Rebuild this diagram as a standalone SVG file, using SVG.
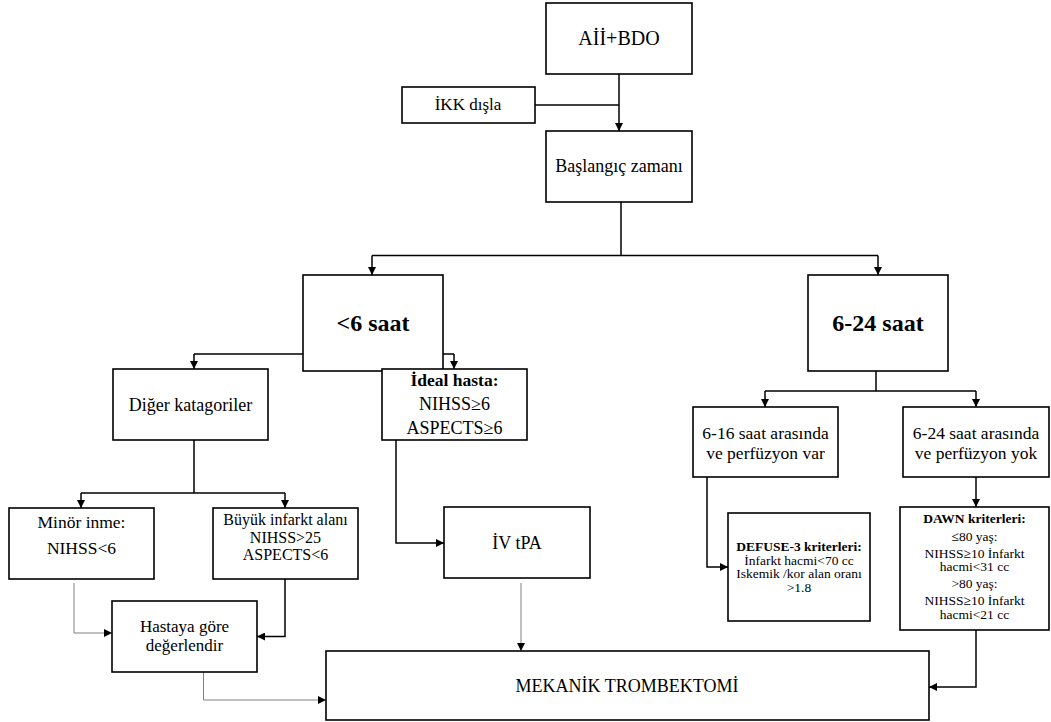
<svg xmlns="http://www.w3.org/2000/svg" width="1051" height="722" viewBox="0 0 1051 722">
<style>
.box{fill:#fff;stroke:#000;stroke-width:1.6}
.t{font-family:"Liberation Serif","Times New Roman",serif;fill:#000;text-anchor:middle}
.b{font-weight:bold}
.c{fill:none;stroke:#000;stroke-width:1.5}
.g{fill:none;stroke:#808080;stroke-width:1}
</style>
<defs>
<marker id="ah" viewBox="0 0 8 8" refX="8" refY="4" markerWidth="8" markerHeight="8" markerUnits="userSpaceOnUse" orient="auto">
<path d="M0,0 L8,4 L0,8 z" fill="#000"/>
</marker>
</defs>
<rect width="1051" height="722" fill="#fff"/>
<g id="connectors">
<path class="c" d="M619,74 V131" marker-end="url(#ah)"/>
<path class="c" d="M535,105 H619"/>
<path class="c" d="M621,202 V255.5 M372,255.5 H878"/>
<path class="c" d="M372,255.5 V275" marker-end="url(#ah)"/>
<path class="c" d="M878,255.5 V275" marker-end="url(#ah)"/>
<path class="c" d="M372,371 V354 M194,354 H454"/>
<path class="c" d="M194,354 V369" marker-end="url(#ah)"/>
<path class="c" d="M454,354 V369" marker-end="url(#ah)"/>
<path class="c" d="M194,440 V493 M81,493 H285"/>
<path class="c" d="M81,493 V508" marker-end="url(#ah)"/>
<path class="c" d="M285,493 V508" marker-end="url(#ah)"/>
<path class="c" d="M396,440 V543 H444" marker-end="url(#ah)"/>
<path class="g" d="M74,583 V633 H112" marker-end="url(#ah)"/>
<path class="c" d="M285,579 V636.5 H257" marker-end="url(#ah)"/>
<path class="g" d="M203.5,672 V700 H326" marker-end="url(#ah)"/>
<path class="g" d="M521,583 V651" marker-end="url(#ah)"/>
<path class="c" d="M876,371 V391 M765,391 H976"/>
<path class="c" d="M765,391 V407" marker-end="url(#ah)"/>
<path class="c" d="M976,391 V407" marker-end="url(#ah)"/>
<path class="c" d="M707,477 V567 H728" marker-end="url(#ah)"/>
<path class="c" d="M976,477 V507" marker-end="url(#ah)"/>
<path class="c" d="M976,630 V687 H929" marker-end="url(#ah)"/>
</g>
<g id="aii">
<rect class="box" x="546" y="3" width="146" height="71"/>
<text class="t" x="619" y="45" font-size="20">Aİİ+BDO</text>
</g>
<g id="ikk">
<rect class="box" x="402" y="87" width="133" height="36"/>
<text class="t" x="468" y="110" font-size="17">İKK dışla</text>
</g>
<g id="baslangic">
<rect class="box" x="546" y="131" width="146" height="71"/>
<text class="t" x="619" y="172" font-size="18">Başlangıç zamanı</text>
</g>
<g id="lt6">
<rect class="box" x="303" y="275" width="140" height="96"/>
<text class="t b" x="373" y="331" font-size="24">&lt;6 saat</text>
</g>
<g id="h624">
<rect class="box" x="808" y="275" width="140" height="96"/>
<text class="t b" x="878" y="331" font-size="24">6-24 saat</text>
</g>
<g id="diger">
<rect class="box" x="113" y="369" width="155" height="71"/>
<text class="t" x="190.5" y="411" font-size="18">Diğer katagoriler</text>
</g>
<g id="ideal">
<rect class="box" x="382" y="369" width="145" height="71"/>
<text class="t b" x="454.5" y="386" font-size="17.5">İdeal hasta:</text>
<text class="t" x="454.5" y="410" font-size="18">NIHSS≥6</text>
<text class="t" x="454.5" y="433.5" font-size="18">ASPECTS≥6</text>
</g>
<g id="minor">
<rect class="box" x="9" y="508" width="145" height="71"/>
<text class="t" x="81.5" y="528" font-size="17.5">Minör inme:</text>
<text class="t" x="81.5" y="554" font-size="17.5">NIHSS&lt;6</text>
</g>
<g id="buyuk">
<rect class="box" x="213" y="508" width="145" height="71"/>
<text class="t" x="285.5" y="525" font-size="16">Büyük infarkt alanı</text>
<text class="t" x="285.5" y="542.5" font-size="16">NIHSS&gt;25</text>
<text class="t" x="285.5" y="560" font-size="16">ASPECTS&lt;6</text>
</g>
<g id="ivtpa">
<rect class="box" x="444" y="507" width="146" height="71"/>
<text class="t" x="517" y="549" font-size="18">İV tPA</text>
</g>
<g id="h616">
<rect class="box" x="693" y="407" width="145" height="70"/>
<text class="t" x="765.5" y="439" font-size="17.5">6-16 saat arasında</text>
<text class="t" x="765.5" y="459" font-size="17.5">ve perfüzyon var</text>
</g>
<g id="h624yok">
<rect class="box" x="903" y="407" width="146" height="70"/>
<text class="t" x="976" y="439" font-size="17.5">6-24 saat arasında</text>
<text class="t" x="976" y="459" font-size="17.5">ve perfüzyon yok</text>
</g>
<g id="defuse">
<rect class="box" x="728" y="513" width="142" height="108"/>
<text class="t b" x="799" y="551" font-size="13.5">DEFUSE-3 kriterleri:</text>
<text class="t" x="799" y="564.5" font-size="13.5">İnfarkt hacmi&lt;70 cc</text>
<text class="t" x="799" y="578" font-size="13.5">Iskemik /kor alan oranı</text>
<text class="t" x="799" y="591.5" font-size="13.5">&gt;1.8</text>
</g>
<g id="dawn">
<rect class="box" x="900" y="507" width="149" height="123"/>
<text class="t b" x="974.5" y="523" font-size="13.5">DAWN kriterleri:</text>
<text class="t" x="974.5" y="541" font-size="13.5">≤80 yaş:</text>
<text class="t" x="974.5" y="558" font-size="13.5">NIHSS≥10 İnfarkt</text>
<text class="t" x="974.5" y="571" font-size="13.5">hacmi&lt;31 cc</text>
<text class="t" x="974.5" y="588" font-size="13.5">&gt;80 yaş:</text>
<text class="t" x="974.5" y="605" font-size="13.5">NIHSS≥10 İnfarkt</text>
<text class="t" x="974.5" y="618.5" font-size="13.5">hacmi&lt;21 cc</text>
</g>
<g id="hastaya">
<rect class="box" x="112" y="601" width="145" height="71"/>
<text class="t" x="184.5" y="632" font-size="17">Hastaya göre</text>
<text class="t" x="184.5" y="651" font-size="17">değerlendir</text>
</g>
<g id="mekanik">
<rect class="box" x="326" y="651" width="603" height="69"/>
<text class="t" x="627" y="692" font-size="18">MEKANİK TROMBEKTOMİ</text>
</g>
</svg>
